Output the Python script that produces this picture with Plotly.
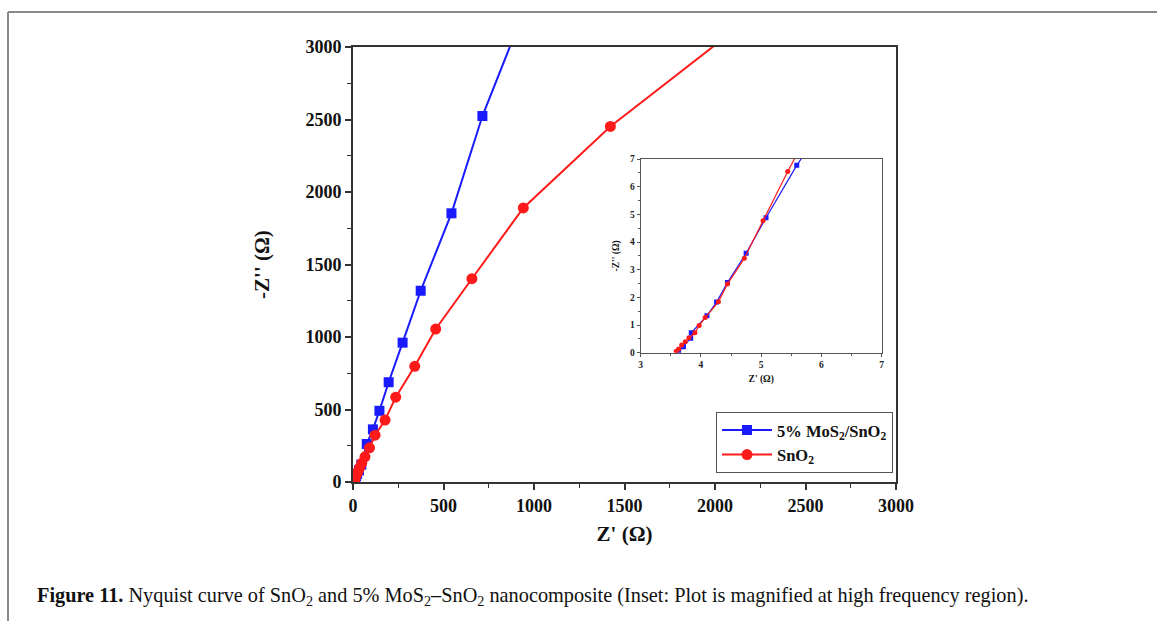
import plotly.graph_objects as go

# ---------------- data ----------------
# main plot: 5% MoS2/SnO2 (blue squares)
blue_x = [3.63, 3.71, 3.83, 3.84, 4.10, 4.26, 4.44, 4.75, 5.08, 5.59,
          6.2, 7.0, 8.2, 10, 13, 17, 23, 33, 46,
          76, 110, 146, 197, 274, 374, 544, 715, 1009]
blue_y = [0.04, 0.22, 0.52, 0.72, 1.34, 1.83, 2.54, 3.59, 4.88, 6.77,
          9, 12, 16, 22, 30, 41, 56, 80, 120,
          262, 363, 491, 688, 961, 1319, 1853, 2524, 3450]
# main plot: SnO2 (red circles)
red_x = [3.59, 3.63, 3.68, 3.74, 3.80, 3.90, 3.97, 4.07, 4.29, 4.44, 4.72, 5.03, 5.44,
         6.0, 6.6, 7.5, 9, 11.5, 15, 20, 27, 36,
         48, 66, 91, 122, 177, 236, 341, 457, 657, 941, 1422, 2193]
red_y = [0.05, 0.13, 0.28, 0.40, 0.54, 0.72, 0.98, 1.27, 1.84, 2.48, 3.41, 4.77, 6.55,
         9.2, 12.3, 16.5, 22, 30, 40, 54, 72, 96,
         129, 174, 236, 323, 427, 585, 798, 1055, 1402, 1890, 2452, 3200]

# inset (high-frequency region)
inset_blue_x = [3.63, 3.71, 3.83, 3.84, 4.10, 4.26, 4.44, 4.75, 5.08, 5.59, 5.85]
inset_blue_y = [0.04, 0.22, 0.52, 0.72, 1.34, 1.83, 2.54, 3.59, 4.88, 6.77, 7.6]
inset_red_x = [3.59, 3.63, 3.68, 3.74, 3.80, 3.90, 3.97, 4.07, 4.29, 4.44, 4.72, 5.03, 5.44, 5.70]
inset_red_y = [0.05, 0.13, 0.28, 0.40, 0.54, 0.72, 0.98, 1.27, 1.84, 2.48, 3.41, 4.77, 6.55, 7.6]

main_ticks = [0, 500, 1000, 1500, 2000, 2500, 3000]
inset_xticks = [3, 4, 5, 6, 7]
inset_yticks = [0, 1, 2, 3, 4, 5, 6, 7]

BLUE = "#1a1aff"
RED = "#ff1a1a"
FONT = "Liberation Serif"
AX = "#333333"

fig = go.Figure()

fig.add_trace(go.Scatter(
    x=blue_x, y=blue_y, mode="lines+markers", name="<b>5% MoS<sub>2</sub>/SnO<sub>2</sub></b>",
    line=dict(color=BLUE, width=2),
    marker=dict(symbol="square", size=10, color=BLUE),
    xaxis="x", yaxis="y"))
fig.add_trace(go.Scatter(
    x=red_x, y=red_y, mode="lines+markers", name="<b>SnO<sub>2</sub></b>",
    line=dict(color=RED, width=2),
    marker=dict(symbol="circle", size=11, color=RED),
    xaxis="x", yaxis="y"))

fig.add_trace(go.Scatter(
    x=inset_blue_x, y=inset_blue_y, mode="lines+markers", showlegend=False,
    line=dict(color=BLUE, width=1.2),
    marker=dict(symbol="square", size=5, color=BLUE),
    xaxis="x2", yaxis="y2"))
fig.add_trace(go.Scatter(
    x=inset_red_x, y=inset_red_y, mode="lines+markers", showlegend=False,
    line=dict(color=RED, width=1.2),
    marker=dict(symbol="circle", size=5, color=RED),
    xaxis="x2", yaxis="y2"))

main_axis = dict(
    range=[0, 3000], tickvals=main_ticks, showgrid=False, zeroline=False,
    showline=True, linecolor=AX, linewidth=2, mirror=True,
    ticks="outside", ticklen=6, tickwidth=1.5, tickcolor=AX,
    minor=dict(dtick=250, ticks="outside", ticklen=4, tickwidth=1.2, tickcolor=AX, showgrid=False),
    tickfont=dict(family=FONT, size=18, color="#111111", weight="bold"),
)

inset_axis = dict(
    showgrid=False, zeroline=False,
    showline=True, linecolor="#555555", linewidth=1, mirror=True,
    ticks="outside", ticklen=3, tickwidth=1, tickcolor="#555555",
    tickfont=dict(family=FONT, size=9.5, color="#222222", weight="bold"),
)

fig.update_layout(
    width=1157, height=621, autosize=False,
    margin=dict(l=353, r=261, t=47, b=139),
    paper_bgcolor="white", plot_bgcolor="white",
    font=dict(family=FONT, color="#111111"),
    xaxis=dict(main_axis, domain=[0, 1],
               title=dict(text="<b>Z' (Ω)</b>", font=dict(family=FONT, size=21), standoff=12)),
    yaxis=dict(main_axis, domain=[0, 1],
               title=dict(text="<b>-Z'' (Ω)</b>", font=dict(family=FONT, size=21), standoff=30)),
    xaxis2=dict(inset_axis, domain=[0.5298, 0.9737], anchor="y2", range=[3, 7],
                tickvals=inset_xticks,
                minor=dict(dtick=0.5, ticks="outside", ticklen=2, tickcolor="#555555", showgrid=False),
                title=dict(text="<b>Z' (Ω)</b>", font=dict(family=FONT, size=9.5), standoff=6)),
    yaxis2=dict(inset_axis, domain=[0.2972, 0.7425], anchor="x2", range=[0, 7],
                tickvals=inset_yticks,
                minor=dict(dtick=0.5, ticks="outside", ticklen=2, tickcolor="#555555", showgrid=False),
                title=dict(text="<b>-Z'' (Ω)</b>", font=dict(family=FONT, size=9.5), standoff=8)),
    legend=dict(
        x=0.9945, xanchor="right", y=0.021, yanchor="bottom",
        bgcolor="white", bordercolor="#555555", borderwidth=1,
        font=dict(family=FONT, size=16.5, color="#111111"),
        itemwidth=50, tracegroupgap=6,
    ),
)

# page frame lines (top and left)
fig.add_shape(type="line", xref="paper", yref="paper",
              x0=(8 - 353) / 543, x1=(1157 - 353) / 543, y0=(482 - 12) / 435, y1=(482 - 12) / 435,
              line=dict(color="#8a8a8a", width=2))
fig.add_shape(type="line", xref="paper", yref="paper",
              x0=(8 - 353) / 543, x1=(8 - 353) / 543, y0=(482 - 12) / 435, y1=(482 - 640) / 435,
              line=dict(color="#8a8a8a", width=2))

# caption
fig.add_annotation(
    xref="paper", yref="paper", x=(35 - 353) / 543, y=(482 - 596) / 435,
    xanchor="left", yanchor="middle", showarrow=False,
    text="<b>Figure 11.</b> Nyquist curve of SnO<sub>2</sub> and 5% MoS<sub>2</sub>–SnO<sub>2</sub> nanocomposite (Inset: Plot is magnified at high frequency region).",
    font=dict(family=FONT, size=20.3, color="#111111"))

fig.write_html("out.html")
